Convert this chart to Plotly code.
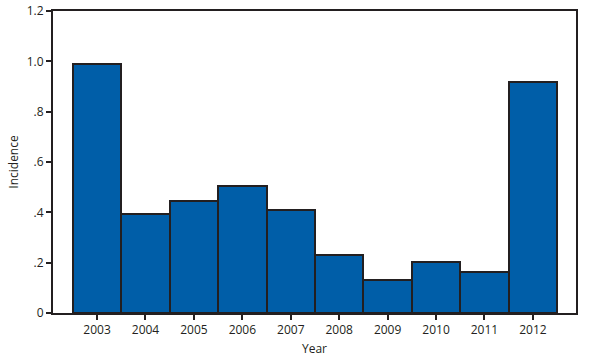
import plotly.graph_objects as go

years = ["2003", "2004", "2005", "2006", "2007", "2008", "2009", "2010", "2011", "2012"]
incidence = [0.99, 0.395, 0.446, 0.503, 0.41, 0.23, 0.132, 0.204, 0.164, 0.918]
ytick_vals = [0, 0.2, 0.4, 0.6, 0.8, 1.0, 1.2]
ytick_text = ["0", ".2", ".4", ".6", ".8", "1.0", "1.2"]

fig = go.Figure(go.Bar(
    x=years, y=incidence, width=1,
    marker=dict(color="#005EA8", line=dict(color="#231F20", width=2)),
    hoverinfo="skip",
))

font_color = "#231F20"
fig.update_layout(
    width=593, height=357,
    margin=dict(l=53, r=17, t=11, b=44, autoexpand=False),
    plot_bgcolor="white", paper_bgcolor="white",
    bargap=0, showlegend=False,
    font=dict(family="Open Sans, Liberation Sans, sans-serif", size=12, color=font_color),
)
fig.update_xaxes(
    type="category", range=[-0.91, 9.89], automargin=False,
    showline=True, linecolor=font_color, linewidth=2, mirror=True,
    ticks="outside", ticklen=5, tickwidth=2, tickcolor=font_color,
    showgrid=False, zeroline=False,
    title=dict(text="Year", standoff=7, font=dict(size=12)),
)
fig.update_yaxes(
    range=[0, 1.2], tickvals=ytick_vals, ticktext=ytick_text, automargin=False,
    showline=True, linecolor=font_color, linewidth=2, mirror=True,
    ticks="outside", ticklen=5, tickwidth=2, tickcolor=font_color,
    showgrid=False, zeroline=False,
    title=dict(text="Incidence", standoff=6, font=dict(size=12)),
)
fig.write_html("out.html", config={"displayModeBar": False},
               post_script="document.body.style.margin='0';")
